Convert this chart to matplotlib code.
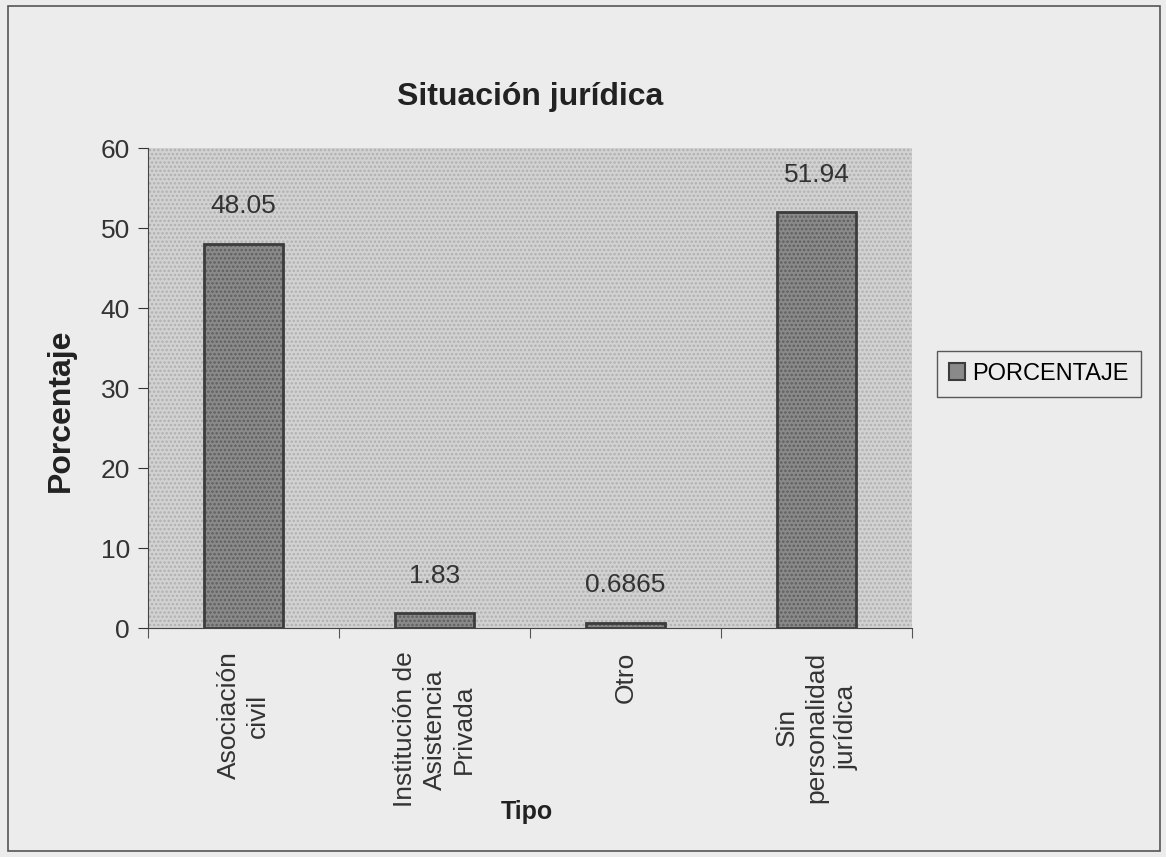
import numpy as np
import matplotlib.pyplot as plt
from matplotlib.patches import Rectangle

plt.rcParams['font.family'] = ['Liberation Sans', 'DejaVu Sans']
plt.rcParams['hatch.linewidth'] = 1.2

tipos = ['Asociación\ncivil', 'Institución de\nAsistencia\nPrivada', 'Otro', 'Sin\npersonalidad\njurídica']
porcentaje = [48.05, 1.83, 0.6865, 51.94]
etiquetas = ['48.05', '1.83', '0.6865', '51.94']

fig = plt.figure(figsize=(11.66, 8.57), dpi=100, facecolor='#ececec')
ax = fig.add_axes([148 / 1166, 1 - 628 / 857, (912 - 148) / 1166, (628 - 148) / 857])
ax.set_facecolor('#d2d2d2')
# textura punteada del fondo
ax.add_patch(Rectangle((0, 0), 1, 1, transform=ax.transAxes, facecolor='none',
                       edgecolor='#b0b0b0', hatch='....', linewidth=0, zorder=0.5))

x = np.arange(len(tipos))
ax.bar(x, porcentaje, width=0.41, color='#8a8a8a', edgecolor='#5e5e5e', hatch='....',
       linewidth=0, zorder=2)
barras = ax.bar(x, porcentaje, width=0.41, fill=False, edgecolor='#3c3c3c',
                linewidth=2, label='PORCENTAJE', zorder=3)

for xi, v, t in zip(x, porcentaje, etiquetas):
    ax.annotate(t, (xi, v), xytext=(0, 27), textcoords='offset points',
                ha='center', va='center', fontsize=19, color='#333333')

ax.set_xlim(-0.5, len(tipos) - 0.5)
ax.set_ylim(0, 60)
ax.set_yticks(range(0, 61, 10))
ax.tick_params(axis='y', labelsize=19, length=7, direction='out', colors='#333333', pad=6)

# ticks between categories, labels at centers
ax.set_xticks(np.arange(-0.5, len(tipos)), minor=False)
ax.set_xticklabels([])
ax.set_xticks(x, minor=True)
ax.set_xticklabels(tipos, minor=True, rotation=90, ha='center', va='top',
                   multialignment='center', fontsize=19, color='#333333', linespacing=1.3)
ax.tick_params(axis='x', which='major', length=7, direction='out', color='#555555')
ax.tick_params(axis='x', which='minor', length=0, pad=17)

for s in ['top', 'right']:
    ax.spines[s].set_visible(False)
ax.spines['left'].set_color('#444444')
ax.spines['bottom'].set_color('#444444')
ax.spines['left'].set_zorder(4)
ax.spines['bottom'].set_zorder(4)

fig.text(61 / 1166, 1 - 410 / 857, 'Porcentaje', fontsize=23, fontweight='bold',
         rotation=90, ha='center', va='center', color='#222222')
fig.text(527 / 1166, 1 - 812 / 857, 'Tipo', fontsize=18, fontweight='bold',
         ha='center', va='center', color='#222222')
fig.text(530 / 1166, 1 - 97 / 857, 'Situación jurídica', fontsize=23, fontweight='bold',
         ha='center', va='center', color='#222222')

leg_patch = Rectangle((0, 0), 1, 1, facecolor='#8a8a8a', edgecolor='#3c3c3c', linewidth=1.5)
leg = fig.legend(handles=[leg_patch], labels=['PORCENTAJE'], loc='center',
                 bbox_to_anchor=(1039 / 1166, 1 - 374 / 857),
                 fontsize=17, frameon=True, fancybox=False, edgecolor='#333333',
                 facecolor='#ececec', handlelength=0.7, handleheight=0.7, handletextpad=0.3,
                 borderpad=0.5, borderaxespad=0)
leg.get_frame().set_linewidth(1.0)

fig.patches.append(Rectangle((8 / 1166, 6 / 857), 1152 / 1166, 845 / 857, transform=fig.transFigure,
                             fill=False, edgecolor='#555555', linewidth=1.2))

fig.savefig('out.png', dpi=100, facecolor=fig.get_facecolor())
